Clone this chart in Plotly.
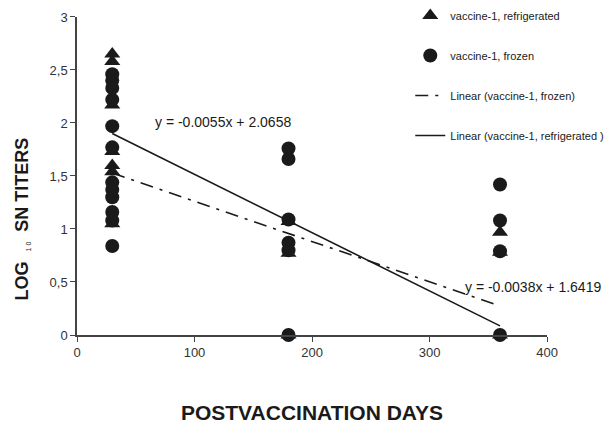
import plotly.graph_objects as go

# --- data ---
refrig_x = [30, 30, 30, 30, 30, 30, 30, 180, 180, 180, 360, 360, 360]
refrig_y = [2.65, 2.58, 2.17, 1.73, 1.60, 1.54, 1.05, 1.07, 0.77, 0.0, 0.97, 0.78, 0.0]

frozen_x = [30, 30, 30, 30, 30, 30, 30, 30, 30, 30, 30, 30,
            180, 180, 180, 180, 180, 180, 360, 360, 360, 360]
frozen_y = [2.46, 2.40, 2.33, 2.22, 1.97, 1.77, 1.44, 1.37, 1.30, 1.16, 1.08, 0.84,
            1.76, 1.66, 1.09, 0.87, 0.80, 0.0, 1.42, 1.08, 0.79, 0.0]

# trendline coefficients (as printed on the chart)
refrig_slope, refrig_intercept = -0.0055, 2.0658
frozen_slope, frozen_intercept = -0.0038, 1.6419
trend_x = [30, 360]

y_ticks = [0, 0.5, 1, 1.5, 2, 2.5, 3]
x_ticks = [0, 100, 200, 300, 400]

FONT = "Liberation Sans, Arial, sans-serif"
INK = "#1a1a1a"

fig = go.Figure()
fig.add_trace(go.Scatter(
    x=refrig_x, y=refrig_y, mode="markers", name="vaccine-1, refrigerated",
    marker=dict(symbol="triangle-up", size=14, color=INK),
    cliponaxis=False, legendgroup="a"))
fig.add_trace(go.Scatter(
    x=frozen_x, y=frozen_y, mode="markers", name="vaccine-1, frozen",
    marker=dict(symbol="circle", size=14, color=INK),
    cliponaxis=False, legendgroup="b"))
fig.add_trace(go.Scatter(
    x=trend_x, y=[frozen_slope * v + frozen_intercept for v in trend_x],
    mode="lines", name="Linear (vaccine-1, frozen)",
    line=dict(color=INK, width=1.6, dash="13px,7px,3px,7px"), legendgroup="c"))
fig.add_trace(go.Scatter(
    x=trend_x, y=[refrig_slope * v + refrig_intercept for v in trend_x],
    mode="lines", name="Linear (vaccine-1, refrigerated )",
    line=dict(color=INK, width=1.6), legendgroup="d"))

fig.add_annotation(x=65, y=2.01, xref="x", yref="y", xanchor="left", yanchor="middle",
                   text="y = -0.0055x + 2.0658", showarrow=False,
                   font=dict(family=FONT, size=14, color=INK))
fig.add_annotation(x=(463 - 77) / 529, y=0.45, xref="paper", yref="y",
                   xanchor="left", yanchor="middle",
                   text="y = -0.0038x + 1.6419", showarrow=False,
                   font=dict(family=FONT, size=14, color=INK))
# y-axis title (placed as in the reference, lower than the axis centre)
fig.add_annotation(x=-55 / 529, y=0.345, xref="paper", yref="paper",
                   xanchor="center", yanchor="middle", textangle=-90, showarrow=False,
                   text="<b>LOG</b>  <sub><span style='font-size:7px'>1 0</span></sub>  <b>SN TITERS</b>",
                   font=dict(family=FONT, size=18, color=INK))

fig.update_layout(
    width=606, height=427,
    margin=dict(l=77, r=0, t=0, b=92, autoexpand=False),
    paper_bgcolor="white", plot_bgcolor="white",
    separators=", ",
    font=dict(family=FONT, size=13, color="#333"),
    showlegend=True,
    legend=dict(x=0.63, y=0.997, xanchor="left", yanchor="top",
                traceorder="grouped", tracegroupgap=21,
                font=dict(family=FONT, size=11, color=INK),
                bgcolor="rgba(0,0,0,0)", itemwidth=30),
    xaxis=dict(domain=[0, 0.8885], range=[0, 400], tickvals=x_ticks,
               showgrid=False, zeroline=False, automargin=False,
               showline=True, linecolor="#444", linewidth=1.5,
               ticks="outside", ticklen=5, tickcolor="#444",
               tickfont=dict(family=FONT, size=13, color="#333"),
               title=dict(text="<b>POSTVACCINATION DAYS</b>", standoff=46,
                          font=dict(family=FONT, size=21, color=INK))),
    yaxis=dict(domain=[0, 0.9493], range=[0, 3], tickvals=y_ticks,
               showgrid=False, zeroline=False, automargin=False,
               showline=True, linecolor="#444", linewidth=1.5,
               ticks="outside", ticklen=5, tickcolor="#444",
               tickfont=dict(family=FONT, size=13, color="#333")),
)

fig.write_html("out.html", config={"displayModeBar": False},
               post_script="document.body.style.margin='0';document.body.style.padding='0';")
